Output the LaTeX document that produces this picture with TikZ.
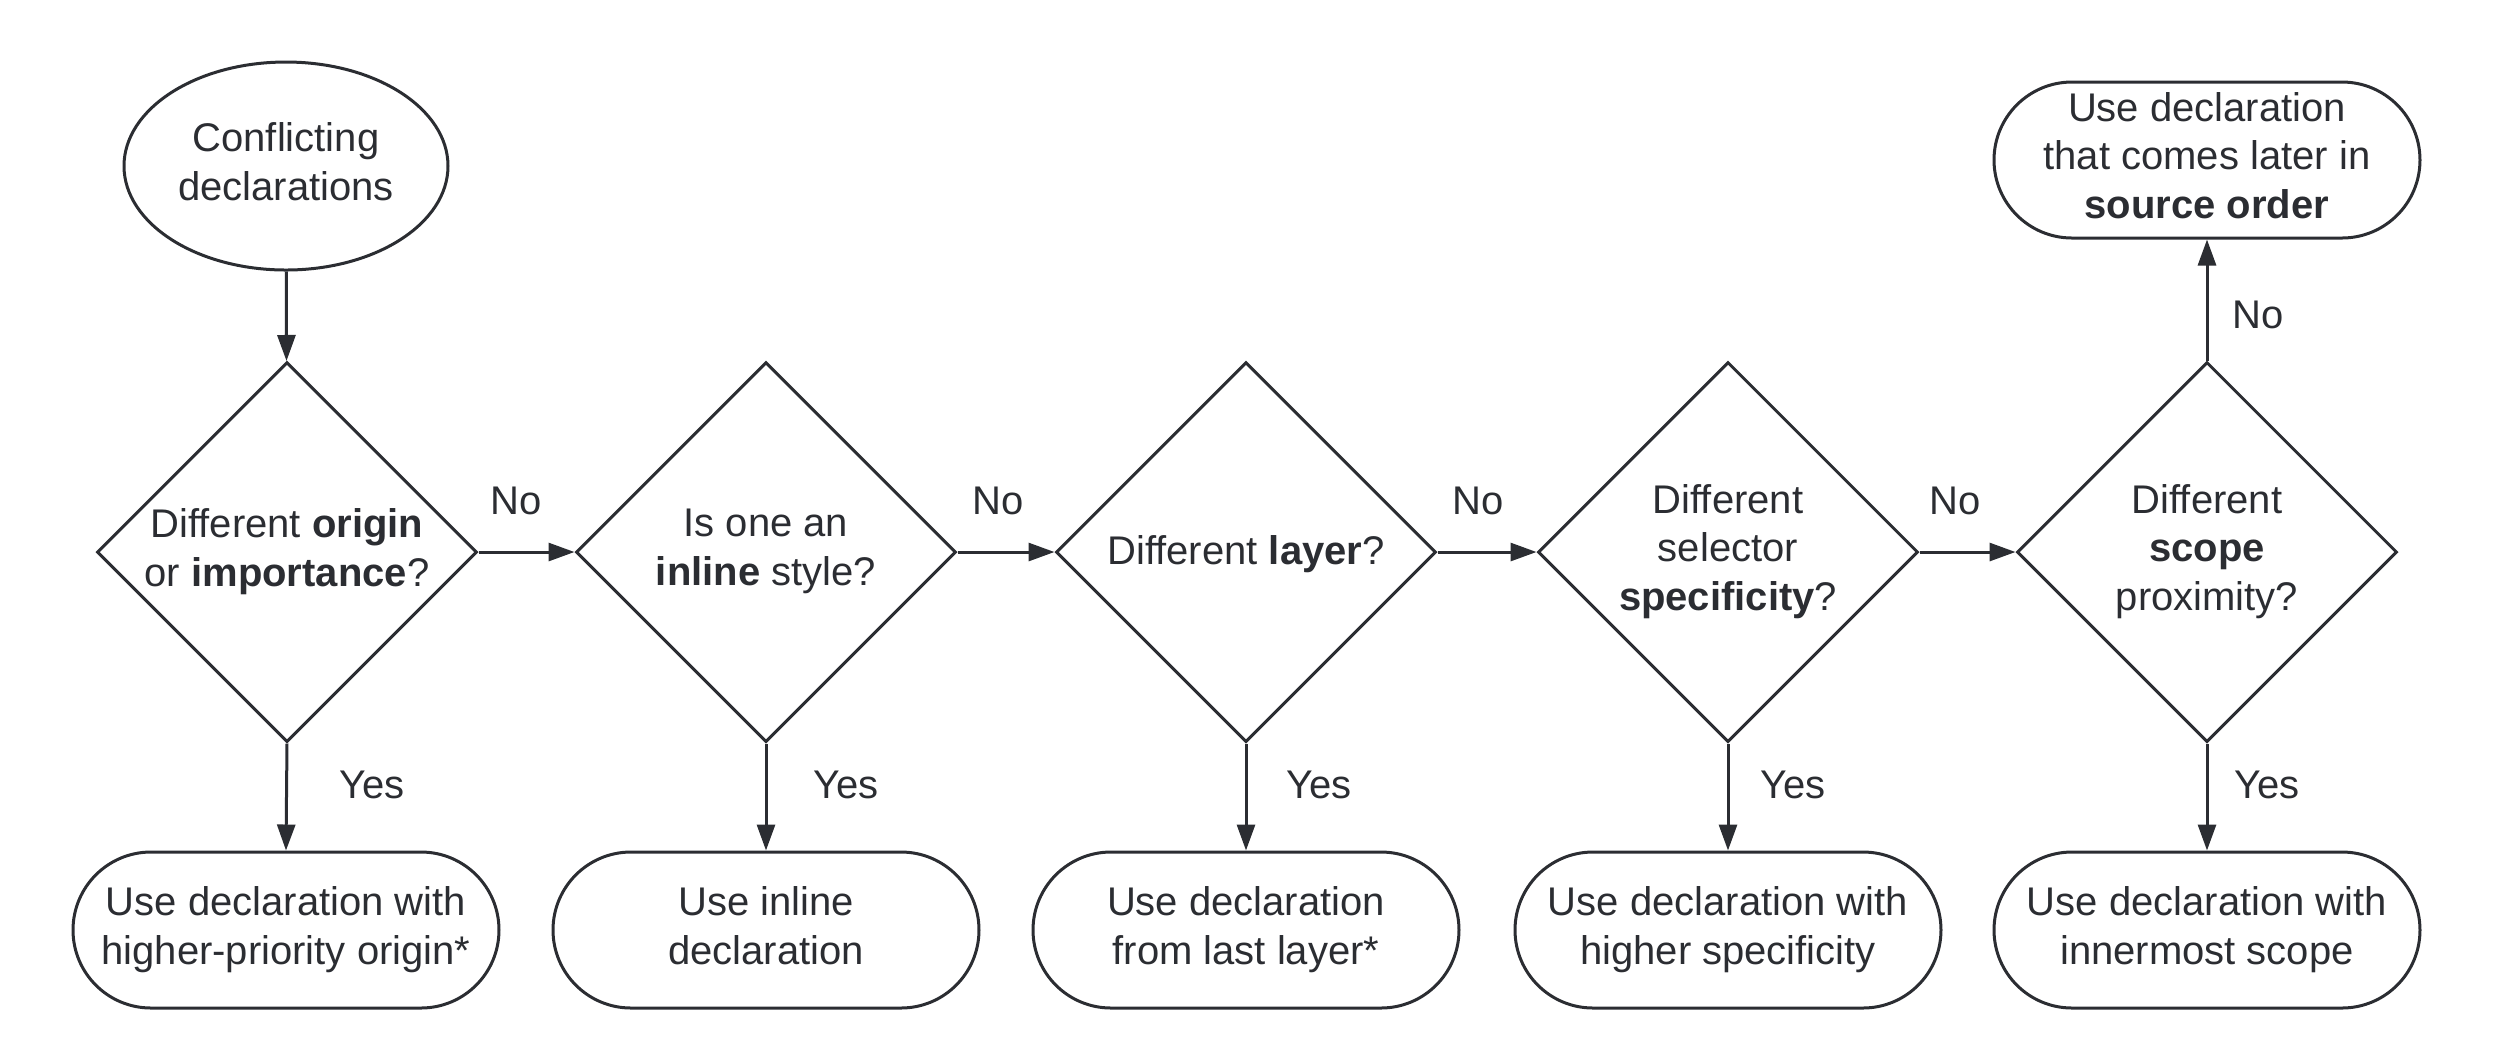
\documentclass[tikz,border=0pt]{standalone}
\usepackage{fontspec}
\setmainfont{Liberation Sans}
\usetikzlibrary{shapes.geometric,arrows.meta}
\definecolor{ink}{RGB}{43,45,50}
\newcommand\mystrut{\rule[-2.8pt]{0pt}{13pt}}
\begin{document}
\begin{tikzpicture}[x=0.3pt,y=-0.3pt,
  every node/.style={font=\fontsize{12}{14.6}\selectfont, text=ink},
  base/.style={draw=ink, line width=0.9pt, align=center, inner sep=0pt,
    execute at begin node=\mystrut, execute at end node=\mystrut},
  decision/.style={base, diamond, aspect=1, minimum width=114pt, minimum height=114pt},
  outcome/.style={base, rectangle, rounded corners=23.4pt, minimum width=127.8pt, minimum height=46.8pt},
  startnode/.style={base, ellipse, minimum width=97.2pt, minimum height=62.4pt},
  flow/.style={draw=ink, line width=0.9pt, -{Triangle[length=7.8pt,width=5.4pt]}},
  lbl/.style={inner sep=0pt}
]
\useasboundingbox (0,0) rectangle (2508,1042);

\node[startnode] (start) at (286,166) {Conflicting\\declarations};

\node[decision] (d1) at (287,552) {Different \textbf{origin}\\or \textbf{importance}?};
\node[decision] (d2) at (766,552) {Is one an\\\textbf{inline} style?};
\node[decision] (d3) at (1246,552) {Different \textbf{layer}?};
\node[decision] (d4) at (1728,552) {Different\\selector\\\textbf{specificity}?};
\node[decision] (d5) at (2207,552) {Different\\\textbf{scope}\\proximity?};

\node[outcome] (b1) at (286,930) {Use declaration with\\higher-priority origin*};
\node[outcome] (b2) at (766,930) {Use inline\\declaration};
\node[outcome] (b3) at (1246,930) {Use declaration\\from last layer*};
\node[outcome] (b4) at (1728,930) {Use declaration with\\higher specificity};
\node[outcome] (b5) at (2207,930) {Use declaration with\\innermost scope};
\node[outcome] (top) at (2207,160) {Use declaration\\that comes later in\\\textbf{source order}};

\draw[flow] (start) -- (d1);
\draw[flow] (d1.east) -- (d2.west);
\draw[flow] (d2.east) -- (d3.west);
\draw[flow] (d3.east) -- (d4.west);
\draw[flow] (d4.east) -- (d5.west);
\draw[flow] (d5.north) -- (top.south);
\draw[flow] (d1.south) -- (b1.north);
\draw[flow] (d2.south) -- (b2.north);
\draw[flow] (d3.south) -- (b3.north);
\draw[flow] (d4.south) -- (b4.north);
\draw[flow] (d5.south) -- (b5.north);

\node[lbl] (no1) at (516,501) {No};
\node[lbl] (no2) at (998,501) {No};
\node[lbl] (no3) at (1478,501) {No};
\node[lbl] (no4) at (1955,501) {No};
\node[lbl] (no5) at (2258,315) {No};
\node[lbl] (yes1) at (372,785) {Yes};
\node[lbl] (yes2) at (846,785) {Yes};
\node[lbl] (yes3) at (1319,785) {Yes};
\node[lbl] (yes4) at (1793,785) {Yes};
\node[lbl] (yes5) at (2267,785) {Yes};
\end{tikzpicture}
\end{document}
